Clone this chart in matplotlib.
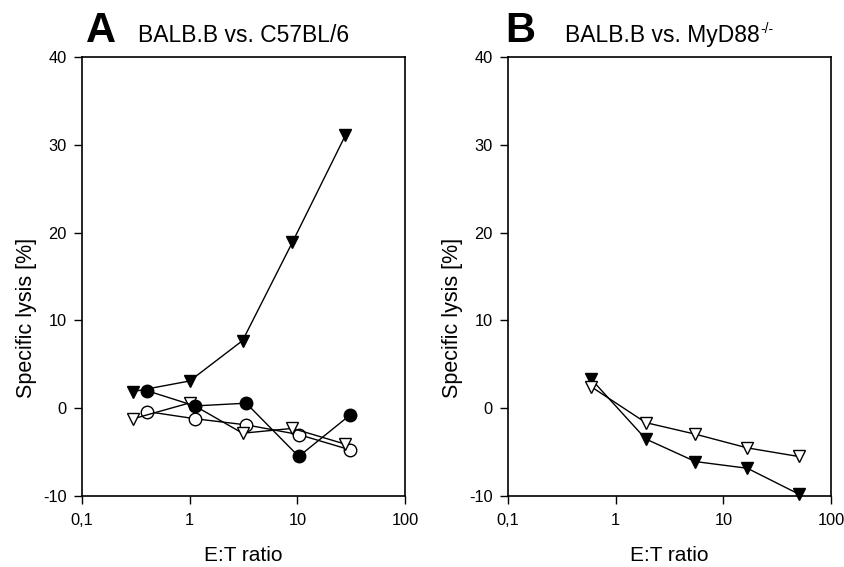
import numpy as np
import matplotlib
matplotlib.use("Agg")
import matplotlib.pyplot as plt
from matplotlib.ticker import FixedLocator, FuncFormatter, NullLocator

plt.rcParams['font.family'] = ['Liberation Sans', 'DejaVu Sans']
plt.rcParams['axes.unicode_minus'] = False

# panel A: BALB.B vs. C57BL/6
a_x_tri = [0.3, 1.0, 3.1, 9.0, 28.0]
a_filled_tri = [1.9, 3.1, 7.7, 18.9, 31.1]
a_open_tri = [-1.2, 0.6, -2.85, -2.3, -4.1]
a_x_circ = [0.4, 1.12, 3.35, 10.3, 31.0]
a_filled_circ = [2.0, 0.26, 0.57, -5.5, -0.76]
a_open_circ = [-0.38, -1.2, -1.9, -3.0, -4.75]

# panel B: BALB.B vs. MyD88-/-
b_x = [0.59, 1.9, 5.5, 16.7, 50.0]
b_filled_tri = [3.34, -3.5, -6.08, -6.84, -9.77]
b_open_tri = [2.46, -1.64, -2.96, -4.52, -5.5]

xticks = [0.1, 1, 10, 100]
yticks = [-10, 0, 10, 20, 30, 40]

fig = plt.figure(figsize=(8.44, 5.67), dpi=100)
axA = fig.add_axes([82/844, 71/567, 323/844, 439/567])
axB = fig.add_axes([508/844, 71/567, 323/844, 439/567])


def style(ax):
    ax.set_xscale('log')
    ax.set_xlim(0.1, 100)
    ax.set_ylim(-10, 40)
    ax.xaxis.set_major_locator(FixedLocator(xticks))
    ax.xaxis.set_minor_locator(NullLocator())
    ax.xaxis.set_major_formatter(FuncFormatter(lambda v, p: ('%g' % v).replace('.', ',')))
    ax.set_yticks(yticks)
    ax.tick_params(direction='out', length=6, width=1, labelsize=11.8, top=False, right=False)
    ax.tick_params(axis='x', pad=6.5)
    ax.tick_params(axis='y', pad=5)
    for s in ax.spines.values():
        s.set_linewidth(1.2)
    ax.set_xlabel('E:T ratio', fontsize=15, labelpad=13)
    ax.set_ylabel('Specific lysis [%]', fontsize=15.5)
    ax.yaxis.set_label_coords(-0.14, 0.405)


kw = dict(color='black', lw=1, markersize=9, markeredgecolor='black', markeredgewidth=1)

axA.plot(a_x_circ, a_open_circ, marker='o', markerfacecolor='white', **kw)
axA.plot(a_x_tri, a_open_tri, marker='v', markerfacecolor='white', **kw)
axA.plot(a_x_circ, a_filled_circ, marker='o', markerfacecolor='black', **kw)
axA.plot(a_x_tri, a_filled_tri, marker='v', markerfacecolor='black', **kw)
style(axA)

axB.plot(b_x, b_filled_tri, marker='v', markerfacecolor='black', clip_on=False, **kw)
axB.plot(b_x, b_open_tri, marker='v', markerfacecolor='white', **kw)
style(axB)

base = 1 - 42/567
fig.text(86/844, base, 'A', fontsize=30, fontweight='bold', va='baseline', ha='left')
fig.text(138/844, base, 'BALB.B vs. C57BL/6', fontsize=16.5, va='baseline', ha='left')
fig.text(505/844, base, 'B', fontsize=30, fontweight='bold', va='baseline', ha='left')
tb = fig.text(565/844, base, 'BALB.B vs. MyD88', fontsize=16.5, va='baseline', ha='left')

# superscript -/- with plain hyphens, placed right after the title text
r = fig.canvas.get_renderer()
ext = tb.get_window_extent(renderer=r)
fig.text((ext.x1 + 1) / 844, base + 9/567, '-/-', fontsize=10, va='baseline', ha='left')

fig.savefig('out.png', dpi=100, facecolor='white')
